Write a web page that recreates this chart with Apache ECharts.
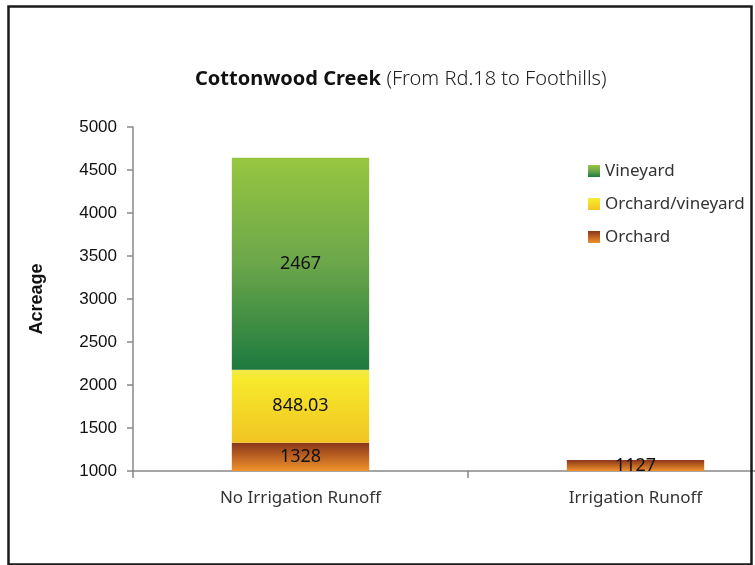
<!DOCTYPE html>
<html>
<head>
<meta charset="utf-8">
<script src="https://cdn.jsdelivr.net/npm/echarts@6/dist/echarts.min.js"></script>
<style>html,body{margin:0;padding:0;background:#fff;}#c{width:755px;height:565px;}</style>
</head>
<body>
<div id="c"></div>
<script>
var categories = ['No Irrigation Runoff', 'Irrigation Runoff'];
var orchard = [1328, 1127];
var orchardVineyard = [848.03, null];
var vineyard = [2467, null];
var yTicks = { min: 1000, max: 5000, interval: 500 };

function grad(top, mid, bottom) {
  var stops = [{ offset: 0, color: top }];
  if (mid) stops.push({ offset: 0.5, color: mid });
  stops.push({ offset: 1, color: bottom });
  return new echarts.graphic.LinearGradient(0, 0, 0, 1, stops);
}

var chart = echarts.init(document.getElementById('c'), null, { renderer: 'canvas' });
var labelStyle = {
  show: true, position: 'inside', color: '#111',
  fontFamily: 'Noto Sans', fontSize: 18
};
chart.setOption({
  animation: false,
  backgroundColor: '#fff',
  title: {
    left: 190, top: 64,
    text: '{b|Cottonwood Creek} {l|(From Rd.18 to Foothills)}',
    textStyle: {
      fontSize: 20,
      rich: {
        b: { fontFamily: 'Noto Sans', fontWeight: 'bold', fontSize: 20, color: '#111' },
        l: { fontFamily: 'Noto Sans', fontWeight: 300, fontSize: 20, color: '#222' }
      }
    }
  },
  legend: {
    orient: 'vertical', left: 583, top: 156,
    itemWidth: 12, itemHeight: 12, itemGap: 13, icon: 'rect',
    data: ['Vineyard', 'Orchard/vineyard', 'Orchard'],
    textStyle: { fontFamily: 'Noto Sans', fontSize: 17, color: '#333', lineHeight: 20 }
  },
  grid: { left: 133, top: 127, bottom: 94, width: 670, outerBoundsMode: 'none' },
  xAxis: {
    type: 'category', data: categories, boundaryGap: true,
    axisLine: { lineStyle: { color: '#888', width: 1.5 } },
    axisTick: { show: true, length: 7, lineStyle: { color: '#888', width: 1.5 } },
    axisLabel: { margin: 19, fontFamily: 'Noto Sans', fontSize: 17, color: '#333' }
  },
  yAxis: {
    type: 'value', min: yTicks.min, max: yTicks.max, interval: yTicks.interval,
    name: 'Acreage', nameLocation: 'middle', nameGap: 87, nameRotate: 90,
    nameTextStyle: { fontFamily: 'Liberation Sans', fontWeight: 'bold', fontSize: 18, color: '#111' },
    splitLine: { show: false },
    axisLine: { show: true, lineStyle: { color: '#888', width: 1.5 } },
    axisTick: { show: true, length: 6, lineStyle: { color: '#888', width: 1.5 } },
    axisLabel: { margin: 16, fontFamily: 'Liberation Sans', fontSize: 17, color: '#111',
      formatter: function (v) { return String(v); } }
  },
  series: [
    {
      name: 'Orchard', type: 'bar', stack: 'a', barWidth: '41%', data: orchard,
      itemStyle: { color: grad('#8a361b', null, '#f0922b') },
      label: labelStyle
    },
    {
      name: 'Orchard/vineyard', type: 'bar', stack: 'a', data: orchardVineyard,
      itemStyle: { color: new echarts.graphic.LinearGradient(0, 0, 0, 1, [
        { offset: 0, color: '#f1ea4a' }, { offset: 0.12, color: '#f6ea2b' },
        { offset: 1, color: '#f2c423' }]) },
      label: labelStyle
    },
    {
      name: 'Vineyard', type: 'bar', stack: 'a', data: vineyard,
      itemStyle: { color: grad('#97c640', '#6ba64a', '#1d7a3f') },
      label: labelStyle
    }
  ],
  graphic: [{
    type: 'rect', left: 6, top: 4, z: 100,
    shape: { width: 743, height: 558 },
    style: { fill: 'none', stroke: '#1a1a1a', lineWidth: 2.5 }
  }]
});
</script>
</body>
</html>
